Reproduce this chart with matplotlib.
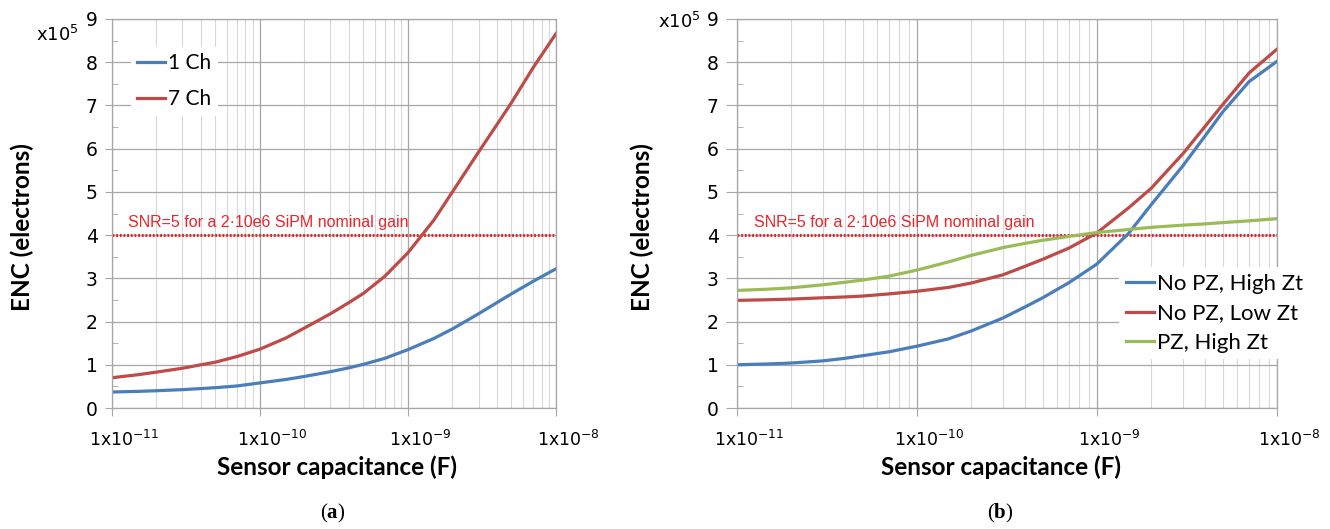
import numpy as np
import matplotlib
import matplotlib.pyplot as plt
import matplotlib.transforms as mtransforms
from matplotlib.ticker import FixedLocator, NullFormatter, MultipleLocator

plt.rcParams['mathtext.fontset'] = 'custom'
plt.rcParams['mathtext.bf'] = 'Liberation Serif:bold'

# capacitance grid (F) used for both panels
cap = [1e-11, 1.5e-11, 2e-11, 3e-11, 4e-11, 5e-11, 7e-11,
       1e-10, 1.5e-10, 2e-10, 3e-10, 4e-10, 5e-10, 7e-10,
       1e-9, 1.5e-9, 2e-9, 3e-9, 4e-9, 5e-9, 7e-9, 1e-8]

# panel (a), ENC in units of 1e5 electrons
enc_1ch = [0.37, 0.385, 0.40, 0.425, 0.45, 0.47, 0.51,
           0.58, 0.66, 0.73, 0.84, 0.93, 1.01, 1.15,
           1.35, 1.61, 1.83, 2.18, 2.44, 2.64, 2.93, 3.22]
enc_7ch = [0.70, 0.77, 0.83, 0.92, 1.00, 1.06, 1.19,
           1.36, 1.62, 1.85, 2.18, 2.44, 2.65, 3.05,
           3.59, 4.35, 5.00, 5.92, 6.56, 7.06, 7.87, 8.66]

# panel (b)
enc_nopz_high = [1.00, 1.02, 1.04, 1.09, 1.15, 1.21, 1.30,
                 1.43, 1.60, 1.78, 2.08, 2.34, 2.55, 2.90,
                 3.33, 4.04, 4.70, 5.60, 6.30, 6.85, 7.55, 8.02]
enc_nopz_low = [2.49, 2.505, 2.52, 2.55, 2.57, 2.59, 2.64,
                2.70, 2.79, 2.89, 3.08, 3.28, 3.44, 3.70,
                4.05, 4.63, 5.08, 5.88, 6.52, 7.02, 7.75, 8.30]
enc_pz_high = [2.72, 2.75, 2.78, 2.85, 2.91, 2.96, 3.05,
               3.19, 3.38, 3.53, 3.71, 3.81, 3.88, 3.97,
               4.06, 4.13, 4.18, 4.23, 4.26, 4.29, 4.33, 4.38]

snr_level = 4
decades = [1e-11, 1e-10, 1e-9, 1e-8]
decade_labels = [r'1x10$^{-11}$', r'1x10$^{-10}$', r'1x10$^{-9}$', r'1x10$^{-8}$']

blue = '#4a7ebb'
red = '#be4b48'
green = '#9bbb59'
snr_red = '#e8262c'
grid_c = '#a6a6a6'

fig = plt.figure(figsize=(13.3, 5.29), dpi=100)
ax_a = fig.add_axes([0.0840, 0.2287, 0.3340, 0.7354])
ax_b = fig.add_axes([0.5539, 0.2287, 0.4062, 0.7354])


def style(ax, ytick_len):
    ax.set_xscale('log')
    ax.set_xlim(1e-11, 1e-8)
    ax.set_ylim(0, 9)
    ax.set_axisbelow(True)
    ax.xaxis.set_major_locator(FixedLocator(decades))
    ax.set_xticklabels(decade_labels)
    ax.xaxis.set_minor_locator(FixedLocator(
        [m * d for d in decades[:-1] for m in range(2, 10)]))
    ax.xaxis.set_minor_formatter(NullFormatter())
    ax.set_yticks(range(10))
    ax.yaxis.set_minor_locator(MultipleLocator(0.5))
    ax.grid(which='major', color=grid_c, lw=0.9)
    ax.grid(which='minor', axis='x', color='#d8d8d8', lw=0.8)
    ax.tick_params(axis='x', which='major', length=6, color=grid_c,
                   labelsize=12.5, pad=10)
    ax.tick_params(axis='x', which='minor', length=0)
    ax.tick_params(axis='y', which='major', length=ytick_len, color=grid_c,
                   labelsize=13.5, pad=5)
    ax.tick_params(axis='y', which='minor', direction='in', length=4,
                   color=grid_c)
    for s in ax.spines.values():
        s.set_color(grid_c)
        s.set_linewidth(0.9)
    shift = mtransforms.ScaledTranslation(0.12, 0, fig.dpi_scale_trans)
    for lab in ax.get_xticklabels():
        lab.set_transform(lab.get_transform() + shift)
    ax.axhline(snr_level, color=snr_red, lw=2.2, ls=(0, (0.6, 0.6)))


style(ax_a, 5)
style(ax_b, 8)

lw = 2.3
ax_a.plot(cap, enc_1ch, color=blue, lw=lw, label='1 Ch')
ax_a.plot(cap, enc_7ch, color=red, lw=lw, label='7 Ch')
ax_b.plot(cap, enc_nopz_high, color=blue, lw=lw, label='No PZ, High Zt')
ax_b.plot(cap, enc_nopz_low, color=red, lw=lw, label='No PZ, Low Zt')
ax_b.plot(cap, enc_pz_high, color=green, lw=lw, label='PZ, High Zt')

snr_txt = 'SNR=5 for a 2\u00b710e6 SiPM nominal gain'
ax_a.text(1.29e-11, 4.18, snr_txt, color=snr_red, fontsize=11.5,
          family='Liberation Sans', va='baseline')
ax_b.text(1.25e-11, 4.18, snr_txt, color=snr_red, fontsize=11.5,
          family='Liberation Sans', va='baseline')

leg_a = ax_a.legend(loc='center left', bbox_to_anchor=(0.043, 0.84),
                    prop={'family': 'Lato', 'size': 15}, frameon=True,
                    facecolor='white', edgecolor='none', framealpha=1,
                    fancybox=False, handlelength=1.35, handletextpad=0.15,
                    labelspacing=0.78, borderpad=0.3, borderaxespad=0)
leg_b = ax_b.legend(loc='center left', bbox_to_anchor=(0.708, 0.243),
                    prop={'family': 'Lato', 'size': 16}, frameon=True,
                    facecolor='white', edgecolor='none', framealpha=1,
                    fancybox=False, handlelength=1.25, handletextpad=0.15,
                    labelspacing=0.42, borderpad=0.3, borderaxespad=0)

lab_font = {'family': 'Lato', 'weight': 'bold', 'size': 17.5}
fig.text(0.2534, 0.1172, 'Sensor capacitance (F)', ha='center', va='center', **lab_font)
fig.text(0.7526, 0.1172, 'Sensor capacitance (F)', ha='center', va='center', **lab_font)
fig.text(0.0165, 0.571, 'ENC (electrons)', rotation=90, ha='center', va='center', **lab_font)
fig.text(0.4827, 0.571, 'ENC (electrons)', rotation=90, ha='center', va='center', **lab_font)

fig.text(0.0429, 0.9338, r'x10$^5$', ha='center', va='center', fontsize=13)
fig.text(0.5105, 0.9584, r'x10$^5$', ha='center', va='center', fontsize=13)

fig.text(0.2504, 0.0302, r'($\mathbf{a}$)', ha='center', va='center',
         family='Liberation Serif', fontsize=15)
fig.text(0.7519, 0.0302, r'($\mathbf{b}$)', ha='center', va='center',
         family='Liberation Serif', fontsize=15)

fig.savefig('out.png', dpi=100)
